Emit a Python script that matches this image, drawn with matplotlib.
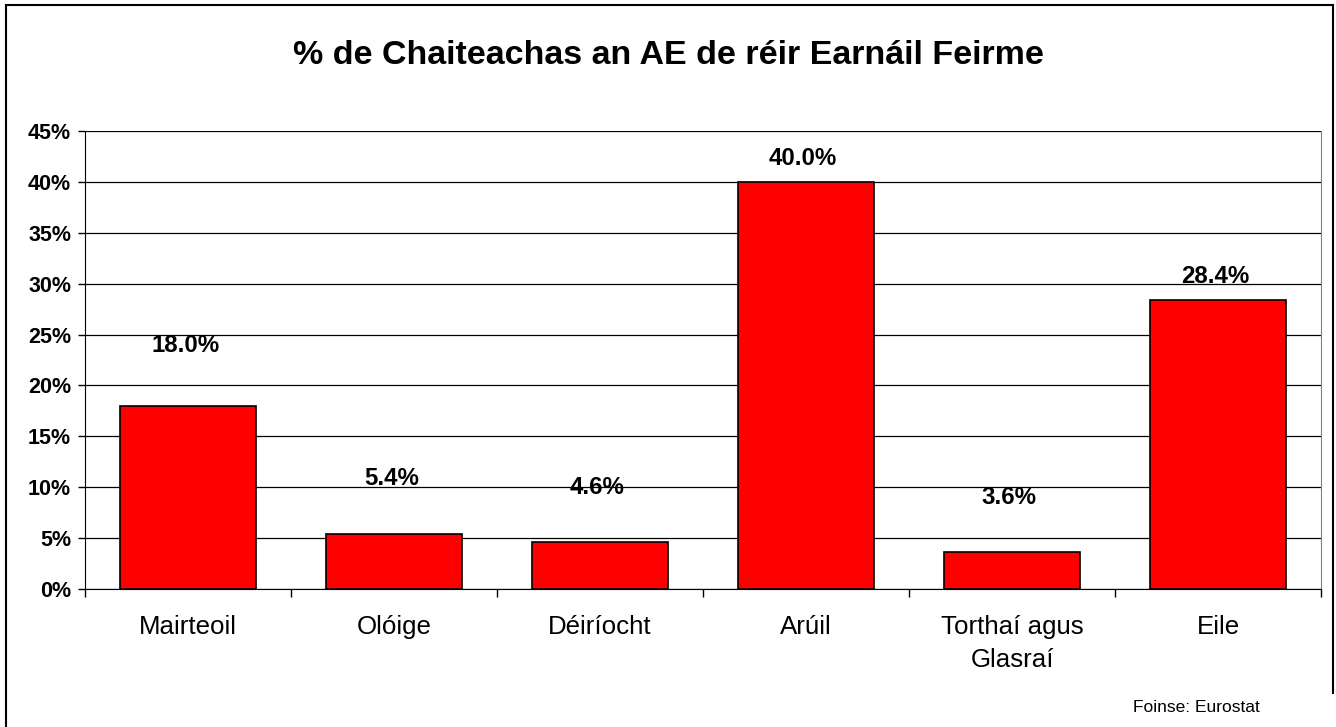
import matplotlib
matplotlib.use('Agg')
import matplotlib.pyplot as plt
from matplotlib.lines import Line2D
from matplotlib.ticker import FuncFormatter, MultipleLocator

## Data
categories = ["Mairteoil", "Olóige", "Déiríocht", "Arúil", "Torthaí agus\nGlasraí", "Eile"]
values = [18.0, 5.4, 4.6, 40.0, 3.6, 28.4]
# label gap above bar top, in points (some labels were nudged in the original)
label_gaps = [39, 35, 35, 12, 35, 12]

plt.rcParams['font.family'] = ['Liberation Sans', 'DejaVu Sans']

fig = plt.figure(figsize=(13.36, 7.27), dpi=100)
ax = fig.add_axes([85/1336, 1-589/727, (1321-85)/1336, (589-131)/727])

x = range(len(categories))
ax.bar(x, values, width=0.665, color='#FF0000', edgecolor='black', linewidth=1.2, zorder=3)

for xi, v, g in zip(x, values, label_gaps):
    ax.annotate(f"{v:.1f}%", (xi, v), xytext=(-2, g), textcoords='offset points',
                ha='center', va='baseline', fontsize=17.3, fontweight='bold')

## Axes
ax.set_xlim(-0.5, len(categories) - 0.5)
ax.set_ylim(0, 45)
ax.yaxis.set_major_locator(MultipleLocator(5))
ax.yaxis.set_major_formatter(FuncFormatter(lambda v, p: f"{v:.0f}%"))
ax.grid(axis='y', color='black', linewidth=0.9, zorder=0)
ax.set_axisbelow(True)

ax.set_xticks([i - 0.5 for i in range(len(categories) + 1)], minor=False)
ax.set_xticklabels([])
ax.set_xticks(list(x), minor=True)
ax.set_xticklabels(categories, minor=True, fontsize=18.6, linespacing=1.45)
ax.tick_params(axis='x', which='major', length=6, width=1, direction='out')
ax.tick_params(axis='x', which='minor', length=0, pad=19)
ax.tick_params(axis='y', length=5, width=1, direction='out', pad=5, labelsize=15.5)
for lab in ax.get_yticklabels():
    lab.set_fontweight('bold')

ax.spines['top'].set_visible(False)
ax.spines['left'].set_color('black')
ax.spines['bottom'].set_color('black')
ax.spines['right'].set_color('#808080')

## Title, source, frame
fig.text(0.5, 1-55/727, "% de Chaiteachas an AE de réir Earnáil Feirme",
         ha='center', va='center', fontsize=24.5, fontweight='bold')
fig.text(1196/1336, 1-708/727, "Foinse: Eurostat", ha='center', va='center', fontsize=12.5)

fig.add_artist(Line2D([6/1336, 6/1336], [0, 1-5/727], color='black', linewidth=1.5))
fig.add_artist(Line2D([6/1336, 1333/1336], [1-5/727, 1-5/727], color='black', linewidth=1.5))
fig.add_artist(Line2D([1333/1336, 1333/1336], [1-5/727, 1-693/727], color='black', linewidth=1.5))

plt.savefig('out.png', dpi=100)
